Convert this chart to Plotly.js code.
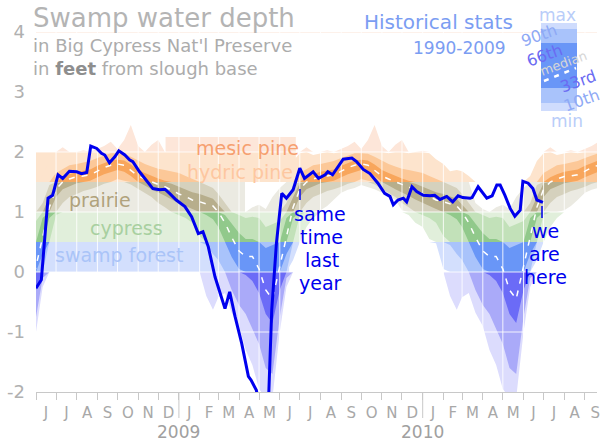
<!DOCTYPE html>
<html>
<head>
<meta charset="utf-8">
<script src="https://cdn.plot.ly/plotly-3.0.1.min.js"></script>
<style>
html,body{margin:0;padding:0;background:#ffffff;}
#chart{width:601px;height:442px;}
</style>
</head>
<body>
<div id="chart"></div>
<script>
// ---- Historical stats 1990-2009 (feet), values on day 1, 11, 21 of each month, Jan..Dec ----
const statDays = [1, 11, 21];
const statMax = [2.02,1.98,1.88, 1.8,1.68,1.7, 1.68,1.6,1.15, 1.05,1.0,1.08, 1.12,1.05,1.25, 1.4,1.6,1.85,
                 1.98,2.08,1.95, 1.98,2.03,1.98, 2.05,2.1,2.17, 2.05,2.2,2.45, 2.1,1.98,2.12, 2.2,1.98,2.0];
const statP90 = [1.65,1.6,1.55, 1.5,1.45,1.4, 1.3,1.15,1.0, 0.95,0.9,0.92, 0.9,0.75,0.8, 0.85,1.15,1.45,
                 1.65,1.72,1.78, 1.8,1.83,1.85, 1.9,1.94,1.98, 1.98,1.97,1.92, 1.85,1.8,1.76, 1.72,1.7,1.68];
const statP66 = [1.42,1.38,1.33, 1.3,1.26,1.22, 1.12,0.95,0.8, 0.65,0.55,0.55, 0.5,0.4,0.45, 0.5,0.9,1.25,
                 1.48,1.58,1.63, 1.67,1.69,1.71, 1.77,1.82,1.86, 1.87,1.86,1.79, 1.7,1.65,1.6, 1.56,1.52,1.47];
const statMedian = [1.3,1.26,1.2, 1.17,1.13,1.1, 1.0,0.82,0.58, 0.35,0.26,0.26, 0.05,-0.3,-0.45, 0.1,0.6,1.08,
                 1.38,1.5,1.55, 1.59,1.6,1.62, 1.68,1.74,1.78, 1.8,1.78,1.7, 1.6,1.55,1.5, 1.46,1.42,1.36];
const statP33 = [1.15,1.1,1.05, 1.0,0.95,0.88, 0.75,0.5,0.25, 0.05,-0.05,-0.15, -0.35,-0.7,-0.85, -0.3,0.3,0.9,
                 1.25,1.38,1.43, 1.48,1.5,1.52, 1.58,1.63,1.67, 1.7,1.67,1.6, 1.5,1.44,1.38, 1.32,1.27,1.21];
const statP10 = [0.95,0.9,0.82, 0.6,0.45,0.3, 0.2,0.0,-0.3, -0.55,-0.7,-0.95, -1.2,-1.6,-1.7, -0.75,-0.1,0.5,
                 0.95,1.15,1.25, 1.3,1.35,1.38, 1.42,1.47,1.5, 1.55,1.52,1.46, 1.38,1.32,1.25, 1.15,1.08,1.0];
const statMin = [0.75,0.55,0.48, 0.05,-0.4,-0.63, -0.42,-0.35,-0.68, -0.9,-1.3,-1.55, -1.95,-2.1,-2.1, -1.0,-0.25,0.2,
                 0.5,0.75,0.9, 1.03,1.1,1.2, 1.32,1.37,1.4, 1.45,1.42,1.38, 1.32,1.28,1.2, 1.03,0.95,0.82];

// ---- Observed water depth (feet) ----
const obsDates = ['2008-06-01','2008-06-09','2008-06-19','2008-06-26','2008-07-04','2008-07-11','2008-07-21',
 '2008-08-01','2008-08-08','2008-08-16','2008-08-22','2008-08-31','2008-09-07','2008-09-12','2008-09-19','2008-09-27',
 '2008-10-03','2008-10-12','2008-10-19','2008-10-24','2008-11-03','2008-11-13','2008-11-23','2008-12-03','2008-12-11',
 '2008-12-18','2008-12-28','2009-01-10','2009-01-20','2009-01-30','2009-02-06','2009-02-14','2009-02-24','2009-03-11',
 '2009-03-18','2009-03-26','2009-04-05','2009-04-15','2009-04-19','2009-04-27','2009-05-05','2009-05-15','2009-05-20',
 '2009-05-27','2009-06-04','2009-06-11','2009-06-21','2009-07-01','2009-07-08','2009-07-21','2009-07-29','2009-08-08',
 '2009-08-12','2009-08-19','2009-09-04','2009-09-17','2009-09-24','2009-10-04','2009-10-14','2009-10-26','2009-11-05',
 '2009-11-13','2009-11-18','2009-11-25','2009-12-03','2009-12-08','2009-12-16','2009-12-23','2010-01-02','2010-01-12',
 '2010-01-19','2010-01-27','2010-02-06','2010-02-15','2010-02-23','2010-03-02','2010-03-13','2010-03-16','2010-03-25',
 '2010-04-07','2010-04-15','2010-04-22','2010-04-27','2010-05-04','2010-05-12','2010-05-19','2010-05-27','2010-05-31',
 '2010-06-08','2010-06-15','2010-06-21','2010-06-30'];
const obsDepth = [-0.27,-0.13,1.23,1.28,1.62,1.56,1.68,
 1.67,1.64,1.66,2.1,2.06,1.98,1.95,1.82,1.92,
 2.02,1.95,1.87,1.84,1.67,1.53,1.39,1.37,1.38,
 1.31,1.2,1.09,0.92,0.64,0.67,0.42,-0.08,-0.61,
 -0.33,-0.74,-1.19,-1.74,-1.8,-1.97,-2.5,-2.2,-0.63,
 0.48,1.31,1.23,1.37,1.73,1.56,1.67,1.56,1.62,
 1.67,1.62,1.88,1.9,1.84,1.71,1.64,1.48,1.31,
 1.26,1.12,1.2,1.23,1.17,1.42,1.34,1.28,1.27,
 1.28,1.21,1.26,1.17,1.27,1.24,1.23,1.24,1.42,
 1.23,1.27,1.45,1.45,1.28,1.06,0.93,1.03,1.51,
 1.48,1.39,1.2,1.16];

// ---- Axis text ----
const monthNames = ['Jan','Feb','Mar','Apr','May','Jun','Jul','Aug','Sep','Oct','Nov','Dec'];
const monthInitials = ['J','F','M','A','M','J','J','A','S','O','N','D'];
const yearLabels = ['2009','2010'];
const yTicks = [-2,-1,0,1,2,3,4];

// ---- Habitat zones ----
const zoneNames = ['', 'swamp forest', 'cypress', 'prairie', 'hydric pine', 'mesic pine'];
const zoneLo = [-9, 0, 0.5, 1.0, 1.5, 2.0];
const zoneHi = [0, 0.5, 1.0, 1.5, 2.0, 9];
const zoneLight = ['#dcdcfd','#d3dffd','#e1efdb','#ebeae2','#fde4cd','#fde6d9'];
const zoneMid   = ['#aaaaf9','#a9c3fb','#c2e1b9','#d5d1bd','#fcc898','#fbc8ac'];
const zoneDark  = ['#6b6bf7','#6996f7','#91c98b','#b7ae8c','#f8a65c','#f5a27c'];
const zoneText  = ['', '#aac4f8', '#a8d0a0', '#b0a27c', '#fdc7a0', '#f6a070'];

// ---- build climatology series across the displayed period ----
const climDates=[], cMax=[], cP90=[], cP66=[], cMed=[], cP33=[], cP10=[], cMin=[];
const tFirst = Date.UTC(2008,4,20), tLast = Date.UTC(2010,9,2);
for (let yr=2008; yr<=2010; yr++) {
  for (let m=0; m<12; m++) {
    statDays.forEach((d,k)=>{
      const t = Date.UTC(yr,m,d);
      if (t<tFirst || t>tLast) return;
      const i = m*3+k;
      climDates.push(new Date(t).toISOString().slice(0,10));
      cMax.push(statMax[i]); cP90.push(statP90[i]); cP66.push(statP66[i]);
      cMed.push(statMedian[i]); cP33.push(statP33[i]); cP10.push(statP10[i]); cMin.push(statMin[i]);
    });
  }
}

const traces = [];
const bands = [[cMin,cMax,zoneLight],[cP10,cP90,zoneMid],[cP33,cP66,zoneDark]];
const revDates = climDates.slice().reverse();
bands.forEach(([lo,hi,cols])=>{
  for (let z=0; z<zoneLo.length; z++) {
    const clip = v => Math.min(zoneHi[z], Math.max(zoneLo[z], v));
    traces.push({type:'scatter', mode:'lines',
      x: climDates.concat(revDates),
      y: hi.map(clip).concat(lo.map(clip).reverse()),
      fill:'toself', fillcolor: cols[z], line:{width:0, color:cols[z]},
      hoverinfo:'skip', showlegend:false});
  }
});

// white grid over the fills
const xStart='2008-06-01', xEnd='2010-09-19';
const gx=[], gy=[];
for (let d=new Date(Date.UTC(2008,6,1)); d<=new Date(Date.UTC(2010,8,1)); d.setUTCMonth(d.getUTCMonth()+1)) {
  const s=d.toISOString().slice(0,10);
  gx.push(s,s,null); gy.push(-2,4,null);
}
[-1,0,1,2,3].forEach(v=>{gx.push(xStart,xEnd,null); gy.push(v,v,null);});
traces.push({type:'scatter', mode:'lines', x:gx, y:gy, line:{color:'rgba(255,255,255,0.85)', width:1},
  hoverinfo:'skip', showlegend:false, connectgaps:false});

// median
traces.push({type:'scatter', mode:'lines', x:climDates, y:cMed,
  line:{color:'#ffffff', width:1.5, dash:'6px,7px'}, hoverinfo:'skip', showlegend:false});

// observed
traces.push({type:'scatter', mode:'lines', x:obsDates, y:obsDepth,
  line:{color:'#0000ee', width:3}, showlegend:false});

// ---- layout helpers ----
const PX = p => (p-36)/561, PY = p => (392-p)/360;
const FONT = 'DejaVu Sans, Verdana, sans-serif';

const shapes = [];
// zone label bands
const bandStart = ['', '2008-06-01','2008-06-01','2008-06-01','2008-06-01','2008-12-12'];
const bandEnd   = ['', '2009-06-15','2009-06-15','2009-04-10','2009-06-25','2009-06-25'];
const bandTop   = [0, 0.5, 1.0, 1.5, 2.0, 2.25];
for (let z=1; z<zoneLo.length; z++) {
  shapes.push({type:'rect', layer:'below', xref:'x', yref:'y', x0:bandStart[z], x1:bandEnd[z],
    y0:zoneLo[z], y1:bandTop[z], fillcolor:zoneLight[z], line:{width:0}});
}
// top line
shapes.push({type:'line', xref:'paper', yref:'y', x0:0, x1:1, y0:4, y1:4, line:{color:'#fbe4d6', width:1}, layer:'below'});
// year separators
yearLabels.forEach(y=>{
  shapes.push({type:'line', xref:'x', yref:'paper', x0:y+'-01-01', x1:y+'-01-01', y0:0, y1:PY(418),
    line:{color:'#c8c8c8', width:1}});
});
// legend bar
const legSeg = [[23,29,'#cfdcfd'],[29,43,'#a9c3fb'],[43,88,'#6996f7'],[88,103,'#a9c3fb'],[103,111,'#cfdcfd']];
legSeg.forEach(([a,b,c])=>{
  shapes.push({type:'rect', xref:'paper', yref:'paper', x0:PX(541), x1:PX(577), y0:PY(b), y1:PY(a),
    fillcolor:c, line:{width:0}});
});
shapes.push({type:'line', xref:'paper', yref:'paper', x0:PX(544), y0:PY(81), x1:PX(576), y1:PY(68),
  line:{color:'#ffffff', width:2.5, dash:'5px,6px'}});
// pointers
shapes.push({type:'line', xref:'paper', yref:'paper', x0:PX(300), x1:PX(300), y0:PY(189), y1:PY(200), line:{color:'#0000ee', width:1.5}});
shapes.push({type:'line', xref:'paper', yref:'paper', x0:PX(542), x1:PX(542), y0:PY(206), y1:PY(218), line:{color:'#0000ee', width:1.5}});

const ann = [];
function addP(text, x, y, size, color, opts) {
  ann.push(Object.assign({text, xref:'paper', yref:'paper', x:PX(x), y:PY(y), showarrow:false,
    xanchor:'center', yanchor:'middle', font:{family:FONT, size, color}}, opts||{}));
}
addP('Swamp water depth', 31, 18, 26, '#b4b4b4', {xanchor:'left'});
addP("in Big Cypress Nat'l Preserve", 31, 46, 18, '#acacac', {xanchor:'left'});
addP('in <span style="color:#8e8e8e"><b>feet</b></span> from slough base', 31, 68, 18, '#acacac', {xanchor:'left'});
addP('Historical stats', 438, 22, 20, '#7b9df2');
addP('1990-2009', 460, 48, 17, '#7b9df2');
addP('max', 557, 15, 17, '#b9cdf9');
addP('90th', 539, 36, 16, '#8ea9f5', {textangle:-20});
addP('66th', 544, 55, 16, '#6b6bf2', {textangle:-20});
addP('median', 563, 63, 13, '#d6d6d6', {textangle:-20});
addP('33rd', 578, 82, 16, '#6b6bf2', {textangle:-20});
addP('10th', 581, 100, 16, '#8ea9f5', {textangle:-20});
addP('min', 567, 121, 17, '#b9cdf9');
// same time last year / we are here
[['same',320,214],['time',321,237],['last',322,260],['year',320,283]].forEach(([t,x,y])=>addP(t,x,y,19,'#0000ee'));
[['we',545,231],['are',544,254],['here',545,277]].forEach(([t,x,y])=>addP(t,x,y,19,'#0000ee'));

// zone labels (data coordinates)
const zoneLabelX = ['', '2008-10-03','2008-10-15','2008-09-05','2009-04-02','2009-04-13'];
const zoneLabelY = [0, 0.28, 0.73, 1.2, 1.67, 2.07];
for (let z=1; z<zoneNames.length; z++) {
  ann.push({text:zoneNames[z], xref:'x', yref:'y', x:zoneLabelX[z], y:zoneLabelY[z], showarrow:false,
    xanchor:'center', yanchor:'middle', font:{family:FONT, size:19, color:zoneText[z]}});
}
// year labels
yearLabels.forEach(y=>{
  ann.push({text:y, xref:'x', yref:'paper', x:y+'-01-01', y:PY(432), showarrow:false,
    xanchor:'center', yanchor:'middle', borderpad:0, font:{family:FONT, size:17, color:'#a0a0a0'}});
});

const alias = {};
monthNames.forEach((m,i)=>alias[m]=monthInitials[i]);

const layout = {
  width:601, height:442,
  margin:{l:36, r:4, t:32, b:50},
  paper_bgcolor:'#ffffff', plot_bgcolor:'#ffffff',
  showlegend:false,
  font:{family:FONT},
  xaxis:{type:'date', range:[xStart, xEnd], showgrid:false, zeroline:false,
    showline:true, linecolor:'#c8c8c8', linewidth:1,
    tick0:'2008-06-01', dtick:'M1', tickformat:'%b', ticklabelmode:'period', labelalias:alias,
    ticks:'outside', ticklen:7, tickcolor:'#c8c8c8', tickwidth:1,
    tickfont:{family:FONT, size:15, color:'#a8a8a8'}, fixedrange:true},
  yaxis:{range:[-2,4], tickvals:yTicks, ticktext:yTicks.map(String), showgrid:false, zeroline:false,
    showline:false, ticks:'', ticklabelstandoff:10,
    tickfont:{family:FONT, size:18, color:'#b0b0b0'}, fixedrange:true},
  shapes, annotations:ann
};

Plotly.newPlot('chart', traces, layout, {displayModeBar:false, staticPlot:true});
</script>
</body>
</html>
